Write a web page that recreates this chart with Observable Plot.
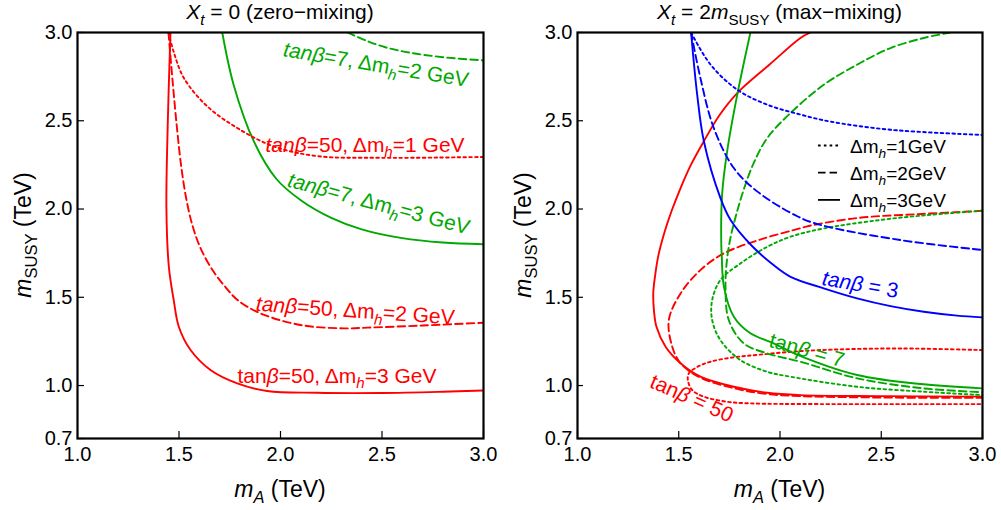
<!DOCTYPE html>
<html>
<head>
<meta charset="utf-8">
<script src="https://cdn.jsdelivr.net/npm/d3@7"></script>
<script src="https://cdn.jsdelivr.net/npm/@observablehq/plot@0.6"></script>
<style>
  html, body { margin: 0; padding: 0; background: #fff; }
  #wrap { display: flex; width: 1001px; height: 510px; }
</style>
</head>
<body>
<div id="wrap"></div>
<script>
// ---------- tick values ----------
const xTicks = [1.0, 1.5, 2.0, 2.5, 3.0];
const yTicks = [0.7, 1.0, 1.5, 2.0, 2.5, 3.0];

// ---------- left panel: X_t = 0 (m_A, m_SUSY) ----------
const zeroT7dm2 = [[2.33,3.0],[2.42,2.955],[2.52,2.915],[2.64,2.885],[2.8,2.86],[3.0,2.842]];
const zeroT7dm3 = [[1.713,3.0],[1.77,2.70],[1.87,2.38],[1.98,2.17],[2.10,2.05],[2.25,1.95],[2.40,1.885],[2.6,1.835],[2.8,1.81],[3.0,1.80]];
const zeroT50dm1 = [[1.448,3.0],[1.474,2.89],[1.524,2.742],[1.639,2.582],[1.787,2.459],[1.966,2.355],[2.18,2.30],[2.5,2.29],[3.0,2.295]];
const zeroT50dm2 = [[1.448,3.0],[1.468,2.731],[1.49,2.459],[1.512,2.232],[1.537,2.051],[1.567,1.904],[1.606,1.779],[1.665,1.654],[1.729,1.558],[1.788,1.485],[1.901,1.409],[2.099,1.343],[2.312,1.324],[2.43,1.328],[2.7,1.34],[3.0,1.356]];
const zeroT50dm3 = [[1.458,3.0],[1.445,2.5],[1.438,2.0],[1.45,1.673],[1.474,1.484],[1.499,1.333],[1.557,1.201],[1.655,1.088],[1.787,1.012],[1.934,0.969],[2.18,0.959],[2.5,0.958],[2.8,0.965],[3.0,0.972]];

// ---------- right panel: X_t = 2 m_SUSY ----------
const maxT3dm1 = [[1.561,3.0],[1.657,2.818],[1.789,2.676],[1.937,2.591],[2.101,2.535],[2.25,2.495],[2.546,2.449],[3.0,2.42]];
const maxT3dm2 = [[1.561,3.0],[1.607,2.742],[1.673,2.459],[1.772,2.232],[1.887,2.10],[2.085,1.959],[2.20,1.91],[2.595,1.824],[3.0,1.768]];
const maxT3dm3 = [[1.561,3.0],[1.591,2.648],[1.624,2.384],[1.706,2.062],[1.756,1.938],[1.863,1.789],[1.96,1.69],[2.052,1.616],[2.216,1.551],[2.381,1.494],[2.546,1.45],[2.71,1.418],[2.875,1.396],[3.0,1.386]];
const maxT7dm1 = [[3.0,1.99],[2.75,1.968],[2.496,1.938],[2.216,1.89],[2.052,1.843],[1.937,1.786],[1.805,1.692],[1.706,1.598],[1.665,1.484],[1.665,1.371],[1.706,1.257],[1.805,1.144],[1.937,1.078],[2.052,1.05],[2.381,0.993],[2.71,0.965],[3.0,0.946]];
const maxT7dm2 = [[2.842,3.0],[2.71,2.969],[2.546,2.912],[2.381,2.818],[2.216,2.704],[2.052,2.544],[1.937,2.402],[1.87,2.26],[1.818,2.1],[1.782,1.96],[1.756,1.84],[1.738,1.711],[1.731,1.56],[1.747,1.371],[1.821,1.239],[1.937,1.182],[2.101,1.135],[2.381,1.041],[2.71,0.984],[3.0,0.962]];
const maxT7dm3 = [[1.854,3.0],[1.789,2.648],[1.739,2.327],[1.714,2.081],[1.71,1.798],[1.712,1.749],[1.723,1.56],[1.772,1.39],[1.854,1.296],[1.969,1.239],[2.075,1.18],[2.381,1.06],[2.71,1.007],[3.0,0.984]];
const maxT50dm1 = [[3.0,1.201],[2.6,1.21],[2.3,1.205],[2.101,1.195],[1.9,1.175],[1.772,1.16],[1.657,1.135],[1.591,1.105],[1.55,1.069],[1.545,1.031],[1.566,0.975],[1.624,0.937],[1.739,0.908],[1.854,0.899],[2.2,0.895],[3.0,0.895]];
const maxT50dm2 = [[3.0,1.99],[2.7,1.972],[2.381,1.949],[2.134,1.902],[2.101,1.891],[1.91,1.83],[1.723,1.749],[1.607,1.654],[1.509,1.522],[1.451,1.371],[1.468,1.22],[1.509,1.126],[1.607,1.045],[1.772,0.985],[1.937,0.952],[2.101,0.94],[2.5,0.932],[3.0,0.93]];
const maxT50dm3 = [[2.151,3.0],[2.101,2.969],[1.95,2.82],[1.789,2.657],[1.70,2.53],[1.624,2.384],[1.56,2.25],[1.509,2.119],[1.465,1.99],[1.43,1.87],[1.40,1.74],[1.383,1.62],[1.374,1.52],[1.378,1.42],[1.39,1.333],[1.435,1.22],[1.509,1.126],[1.607,1.05],[1.772,0.993],[1.937,0.959],[2.101,0.946],[2.5,0.94],[3.0,0.937]];

// ---------- styling ----------
const RED = "#ff0000", GREEN = "#00a800", BLUE = "#0000ff";
const DASH = {1: "2.6,3.2", 2: "7.5,4", 3: null};
const FONT = "'Liberation Sans', Arial, sans-serif";

function curveMark(data, color, dm) {
  return Plot.line(data, {
    x: d => d[0], y: d => d[1], stroke: color, strokeWidth: 1.9,
    strokeDasharray: DASH[dm], curve: "catmull-rom", clip: true
  });
}

function richText(g, x, y, parts, {size = 20, fill = "black", anchor = "middle", rotate = 0} = {}) {
  const t = g.append("text")
    .attr("transform", `translate(${x},${y}) rotate(${rotate})`)
    .attr("text-anchor", anchor).attr("font-size", size).attr("fill", fill)
    .attr("font-family", FONT);
  let shift = 0;
  for (const [str, opt = {}] of parts) {
    const ts = t.append("tspan").text(str);
    const target = opt.sub ? size * 0.27 : 0;
    if (target !== shift) { ts.attr("dy", target - shift); shift = target; }
    if (opt.sub) ts.attr("font-size", size * 0.72);
    if (opt.it) ts.attr("font-style", "italic");
  }
  return t;
}

function panel(curves, width, marginRight) {
  const marks = [
    ...curves.map(([d, c, dm]) => curveMark(d, c, dm)),
    Plot.tickX(xTicks, {x: d => d, stroke: "black", strokeWidth: 1.2, insetTop: 399}),
    Plot.tickY(yTicks, {y: d => d, stroke: "black", strokeWidth: 1.2, insetRight: 399}),
    Plot.axisX({ticks: xTicks, tickFormat: d3.format(".1f"), tickSize: 0, tickPadding: 8, label: null, fontSize: 20}),
    Plot.axisY({ticks: yTicks, tickFormat: d3.format(".1f"), tickSize: 0, tickPadding: 5, label: null, fontSize: 20}),
    Plot.frame({stroke: "black", strokeWidth: 2.2})
  ];
  return Plot.plot({
    width, height: 510,
    marginTop: 32, marginBottom: 72, marginLeft: 77, marginRight,
    x: {domain: [1.0, 3.0]},
    y: {domain: [0.7, 3.0]},
    style: {fontFamily: FONT, fontSize: "20px", background: "white", color: "black", overflow: "visible"},
    marks
  });
}

function decorate(chart, title) {
  const sx = chart.scale("x"), sy = chart.scale("y");
  const g = d3.select(chart).append("g");
  const cx = (sx.apply(1.0) + sx.apply(3.0)) / 2;
  const cy = (sy.apply(0.7) + sy.apply(3.0)) / 2;
  richText(g, cx, 19, title, {size: 21});
  richText(g, cx, 497, [["m", {it: true}], ["A", {sub: true, it: true}], [" (TeV)"]], {size: 23});
  richText(g, 31, cy, [["m", {it: true}], ["SUSY", {sub: true}], [" (TeV)"]], {size: 23, rotate: -90});
  return {g, sx, sy};
}

const wrap = document.getElementById("wrap");

// ---------- left ----------
const left = panel([
  [zeroT7dm2, GREEN, 2], [zeroT7dm3, GREEN, 3],
  [zeroT50dm1, RED, 1], [zeroT50dm2, RED, 2], [zeroT50dm3, RED, 3]
], 500, 17);
wrap.appendChild(left);
{
  const {g, sx, sy} = decorate(left, [["X", {it: true}], ["t", {sub: true, it: true}], [" = 0 (zero\u2212mixing)"]]);
  const lbl = (m, v, rot, color, tb, dm, itTan = true) =>
    richText(g, sx.apply(m), sy.apply(v), [["tan", {it: itTan}], ["\u03b2", {it: true}], [`=${tb}, \u0394m`], ["h", {sub: true, it: true}], [`=${dm} GeV`]], {size: 21, fill: color, rotate: rot});
  lbl(2.468, 2.776, 9.5, GREEN, 7, 2);
  lbl(2.419, 2.323, 0, RED, 50, 1);
  lbl(2.478, 1.989, 15, GREEN, 7, 3);
  lbl(2.369, 1.382, 4, RED, 50, 2);
  lbl(2.281, 1.014, 0, RED, 50, 3, false);
}

// ---------- right ----------
const right = panel([
  [maxT50dm3, RED, 3], [maxT50dm2, RED, 2], [maxT50dm1, RED, 1],
  [maxT7dm3, GREEN, 3], [maxT7dm2, GREEN, 2], [maxT7dm1, GREEN, 1],
  [maxT3dm3, BLUE, 3], [maxT3dm2, BLUE, 2], [maxT3dm1, BLUE, 1]
], 501, 19);
wrap.appendChild(right);
{
  const {g, sx, sy} = decorate(right, [["X", {it: true}], ["t", {sub: true, it: true}], [" = 2"], ["m", {it: true}], ["SUSY", {sub: true}], [" (max\u2212mixing)"]]);
  const tl = (m, v, rot, color, tb, itTan) =>
    richText(g, sx.apply(m), sy.apply(v), [["tan", {it: itTan}], ["\u03b2", {it: true}], [` = ${tb}`]], {size: 21, fill: color, rotate: rot});
  tl(2.393, 1.531, 10, BLUE, 3, true);
  tl(2.126, 1.159, 16, GREEN, 7, false);
  tl(1.553, 0.889, 24, RED, 50, false);
  // legend
  const legend = [[1, DASH[1]], [2, DASH[2]], [3, DASH[3]]];
  const lx = sx.apply(2.215), ly0 = sy.apply(2.357);
  legend.forEach(([dm, dash], i) => {
    const y = ly0 + i * 27.2;
    g.append("line").attr("x1", lx - 5).attr("x2", lx + 17).attr("y1", y).attr("y2", y)
      .attr("stroke", "black").attr("stroke-width", 1.8).attr("stroke-dasharray", dash);
    richText(g, lx + 27, y + 7, [["\u0394m"], ["h", {sub: true, it: true}], [`=${dm}GeV`]], {size: 19, anchor: "start"});
  });
}
</script>
</body>
</html>
